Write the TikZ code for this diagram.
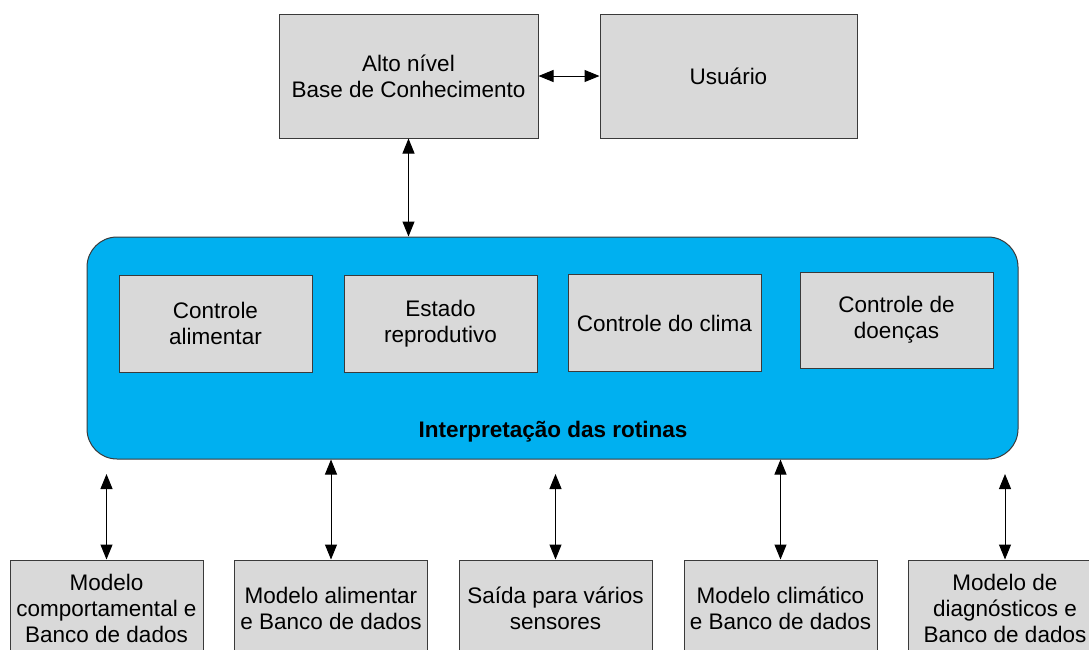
\documentclass[tikz,border=0pt]{standalone}
\usepackage{fontspec}
\setmainfont{Liberation Sans}
\usetikzlibrary{arrows.meta}
\definecolor{boxgray}{HTML}{D9D9D9}
\definecolor{edgegray}{HTML}{3A3A3A}
\definecolor{bandblue}{HTML}{00B0F0}
\begin{document}
\begin{tikzpicture}[x=1pt,y=-1pt,
  greybox/.style={draw=edgegray,fill=boxgray,line width=1pt,minimum width=#1,align=center,inner sep=0pt,
    font=\fontsize{22.5}{26}\selectfont},
  greybox/.default=193pt,
  link/.style={line width=1pt,{Triangle[length=15pt,width=12pt]}-{Triangle[length=15pt,width=12pt]}}]
\useasboundingbox (0,0) rectangle (1089,649);
% top
\node[greybox=259pt,minimum height=124pt] (alto) at (408.5,76) {Alto nível\\Base de Conhecimento};
\node[greybox=257pt,minimum height=124pt] (user) at (728.5,76) {Usuário};
% blue band
\node[draw=edgegray,fill=bandblue,line width=1pt,rounded corners=30pt,minimum width=931pt,minimum height=222pt,inner sep=0pt] (band) at (552.5,348) {};
\node[font=\fontsize{22.5}{26}\selectfont\bfseries] (interp) at (553,432) {Interpretação das rotinas};
% inner boxes
\node[greybox,minimum height=97pt] (c1) at (215.5,323.5) {Controle\\alimentar};
\node[greybox,minimum height=97pt] (c2) at (440.5,323.5) {Estado\\reprodutivo};
\node[greybox,minimum height=97pt] (c3) at (664.5,323) {Controle do clima};
\node[greybox,minimum height=96pt] (c4) at (896.5,320) {Controle de\\doenças};
% bottom boxes
\node[greybox,minimum height=96pt] (b1) at (106.5,608) {Modelo\\comportamental e\\Banco de dados};
\node[greybox,minimum height=96pt] (b2) at (331,608) {Modelo alimentar\\e Banco de dados};
\node[greybox,minimum height=96pt] (b3) at (555.5,608) {Saída para vários\\sensores};
\node[greybox,minimum height=96pt] (b4) at (780.5,608) {Modelo climático\\e Banco de dados};
\node[greybox,minimum height=96pt] (b5) at (1005,608) {Modelo de\\diagnósticos e\\Banco de dados};
% free ends of the short arrows
\coordinate (t1) at (b1.north |- 0,474);
\coordinate (t3) at (b3.north |- 0,474);
\coordinate (t5) at (b5.north |- 0,474);
% connectors
\draw[link] (alto) -- (user);
\draw[link] (alto.south) -- (alto.south |- band.north);
\draw[link] (t1) -- (b1.north);
\draw[link] (b2.north |- band.south) -- (b2.north);
\draw[link] (t3) -- (b3.north);
\draw[link] (b4.north |- band.south) -- (b4.north);
\draw[link] (t5) -- (b5.north);
\end{tikzpicture}
\end{document}
